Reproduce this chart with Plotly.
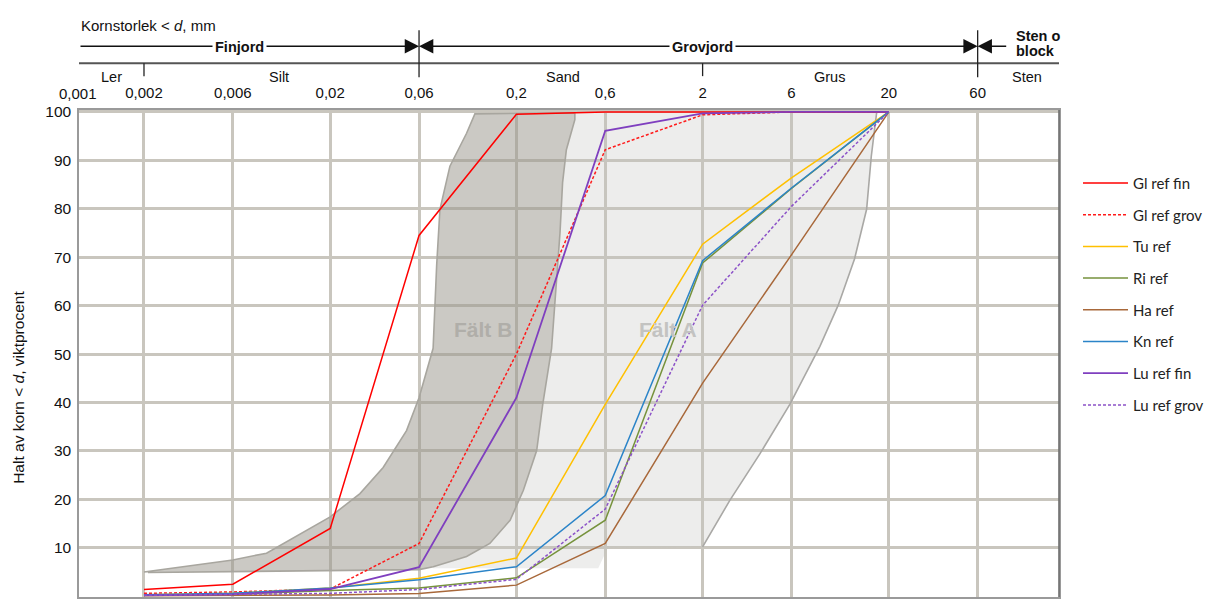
import math
import plotly.graph_objects as go

# ---------------- data ----------------
sizes = [0.002, 0.006, 0.02, 0.06, 0.2, 0.6, 2, 6, 20]

gl_ref_fin  = [1.4, 2.5, 14.0, 74.5, 99.5, 100, 100, 100, 100]
gl_ref_grov = [0.6, 0.9, 1.5, 10.9, 50.0, 92.2, 99.4, 100, 100]
tu_ref      = [0.3, 0.6, 1.7, 3.7, 7.9, 39.6, 72.7, 86.4, 100]
ri_ref      = [0.2, 0.4, 1.2, 1.7, 3.8, 15.7, 68.8, 84.2, 100]
ha_ref      = [0.1, 0.15, 0.25, 0.55, 2.3, 10.9, 44.0, 70.5, 100]
kn_ref      = [0.3, 0.6, 1.7, 3.4, 6.1, 20.8, 69.3, 84.3, 100]
lu_ref_fin  = [0.2, 0.4, 1.5, 6.0, 41.0, 96.1, 99.7, 100, 100]
lu_ref_grov = [0.2, 0.4, 0.6, 1.4, 3.5, 18.0, 60.1, 80.5, 100]

series_names = ["Gl ref fin", "Gl ref grov", "Tu ref", "Ri ref",
                "Ha ref", "Kn ref", "Lu ref fin", "Lu ref grov"]
series_values = [gl_ref_fin, gl_ref_grov, tu_ref, ri_ref,
                 ha_ref, kn_ref, lu_ref_fin, lu_ref_grov]

# Fält B outline (left/top part, then right part)
falt_b_left_x  = [0.002, 0.006, 0.0091, 0.02, 0.0289, 0.0385, 0.0514, 0.06,
                  0.0714, 0.0746, 0.0777, 0.0879, 0.108, 0.1197]
falt_b_left_y  = [5.0, 7.5, 8.9, 16.4, 21.2, 26.6, 34.2, 41.0,
                  51.2, 68.3, 79.9, 88.8, 95.6, 99.6]
falt_b_right_x = [0.412, 0.412, 0.371, 0.354, 0.343, 0.322, 0.309, 0.277,
                  0.257, 0.218, 0.185, 0.144, 0.108, 0.0715]
falt_b_right_y = [99.8, 98.4, 92.2, 85.4, 75.1, 61.5, 51.2, 39.6,
                  30.1, 21.9, 15.7, 10.9, 8.2, 6.1]
falt_b_floor_x = [0.06, 0.0021]
falt_b_floor_y = [5.5, 4.9]

# Fält A outline (right edge from top to bottom, then floor)
falt_a_right_x = [17.2, 16.1, 15.2, 13.1, 10.7, 8.53, 5.88, 4.06, 2.80, 2.0]
falt_a_right_y = [99.8, 90.8, 79.9, 69.7, 60.1, 51.6, 39.6, 29.4, 19.8, 10.2]
falt_a_floor_x = [0.62, 0.55, 0.0715]
falt_a_floor_y = [10.0, 5.8, 5.8]

# axis ticks
grid_sizes = [0.002, 0.006, 0.02, 0.06, 0.2, 0.6, 2, 6, 20, 60]
grid_text = ["0,002", "0,006", "0,02", "0,06", "0,2", "0,6", "2", "6", "20", "60"]
first_tick_text = "0,001"
y_ticks = [0, 10, 20, 30, 40, 50, 60, 70, 80, 90, 100]

# fraction scale on top
fraction_names = ["Ler", "Silt", "Sand", "Grus", "Sten"]
fraction_pos = [0.00133, 0.0106, 0.356, 9.6, 111]
minor_bounds = [0.002, 2]
major_bounds = [0.06, 60]

# ---------------- styles / layout constants ----------------
W, H = 1210, 599
ML, MR, MT, MB = 79, 151, 110, 0
X_RANGE = [-3.048, 2.215]
Y_RANGE = [-0.15, 100.4]
FONT = "Liberation Sans, Arial, Helvetica, sans-serif"
LEG_FONT = "Lato, Carlito, Calibri, Liberation Sans, sans-serif"
GRID = "#c9c6be"
TXT = "#111"

colors = ["#ff0000", "#ff1a1a", "#ffc000", "#76923c",
          "#a8683a", "#2b84c8", "#7f3fbf", "#8c52c8"]
dashes = ["solid", "3px,2px", "solid", "solid", "solid", "solid", "solid", "3px,2px"]
widths = [1.5, 1.5, 1.5, 1.5, 1.5, 1.5, 1.8, 1.5]

plot_h = H - MT - MB
plot_w = W - ML - MR


def py(pix):
    """pixel row -> paper y"""
    return (H - MB - pix) / plot_h


fig = go.Figure()

# Fält A
a_x = ([falt_b_right_x[0]] + falt_a_right_x + falt_a_floor_x
       + falt_b_right_x[::-1])
a_y = ([falt_a_right_y[0]] + falt_a_right_y + falt_a_floor_y
       + falt_b_right_y[::-1])
fig.add_trace(go.Scatter(x=a_x, y=a_y, mode="lines", fill="toself",
                         fillcolor="rgba(195,195,192,0.30)",
                         line=dict(color="rgba(160,160,158,0)", width=0),
                         showlegend=False, hoverinfo="skip"))
fig.add_trace(go.Scatter(x=falt_a_right_x, y=falt_a_right_y, mode="lines",
                         line=dict(color="#a9a8a5", width=1.6),
                         showlegend=False, hoverinfo="skip"))

# Fält B
b_x = falt_b_left_x + falt_b_right_x + falt_b_floor_x
b_y = falt_b_left_y + falt_b_right_y + falt_b_floor_y
fig.add_trace(go.Scatter(x=b_x, y=b_y, mode="lines", fill="toself",
                         fillcolor="rgba(152,148,138,0.50)",
                         line=dict(color="#a8a69f", width=1.6),
                         showlegend=False, hoverinfo="skip"))

# measured curves
for i, (name, vals) in enumerate(zip(series_names, series_values)):
    fig.add_trace(go.Scatter(
        x=sizes, y=vals, mode="lines", name=name, legendgroup=name,
        line=dict(color=colors[i], width=widths[i], dash=dashes[i]),
    ))

annotations = []
shapes = []


def note(**kw):
    base = dict(showarrow=False, xanchor="center", yanchor="middle")
    base.update(kw)
    annotations.append(base)


# field labels
note(x=math.log10(0.132), y=55, xref="x", yref="y", text="<b>Fält B</b>",
     font=dict(family=FONT, size=21, color="#b0aea9"))
note(x=math.log10(1.30), y=55, xref="x", yref="y", text="<b>Fält A</b>",
     font=dict(family=FONT, size=21, color="#c3c3c1"))

# y title
note(x=(19 - ML) / plot_w, y=py(389), xref="paper", yref="paper",
     text="Halt av korn &lt; <i>d</i>, viktprocent", textangle=-90,
     font=dict(family=FONT, size=15.5, color=TXT))

# first tick label
note(x=(78 - ML) / plot_w, y=py(93), xref="paper", yref="paper", text=first_tick_text,
     font=dict(family=FONT, size=15, color=TXT))

# heading
note(x=0, y=py(25), xref="paper", yref="paper", xanchor="left",
     text="Kornstorlek &lt; <i>d</i>, mm", font=dict(family=FONT, size=15, color=TXT))

# arrows
arrow_y = py(46)
arrow_specs = [
    (math.log10(major_bounds[0]), X_RANGE[0]),
    (math.log10(major_bounds[0]), math.log10(2)),
    (math.log10(major_bounds[1]), math.log10(2)),
    (math.log10(major_bounds[1]), math.log10(87)),
]
for head, tail in arrow_specs:
    annotations.append(dict(x=head, y=arrow_y, xref="x", yref="paper",
                            ax=tail, ay=0, axref="x", ayref="pixel",
                            text="", showarrow=True, arrowhead=2, arrowsize=2.2,
                            arrowwidth=1.3, arrowcolor="#111", standoff=0, startstandoff=0))

for txt, pos in [("Finjord", 0.0065), ("Grovjord", 2)]:
    note(x=math.log10(pos), y=py(47), xref="x", yref="paper",
         text="<b>" + txt + "</b>", bgcolor="white", borderpad=2,
         font=dict(family=FONT, size=14.5, color=TXT))

note(x=math.log10(94), y=py(36), xref="x", yref="paper", xanchor="left",
     text="<b>Sten o</b>", font=dict(family=FONT, size=14.5, color=TXT))
note(x=math.log10(94), y=py(51), xref="x", yref="paper", xanchor="left",
     text="<b>block</b>", font=dict(family=FONT, size=14.5, color=TXT))

for name, pos in zip(fraction_names, fraction_pos):
    note(x=math.log10(pos), y=py(77), xref="x", yref="paper", text=name,
         font=dict(family=FONT, size=14.5, color=TXT))

# scale line and ticks
shapes.append(dict(type="line", xref="paper", yref="paper", x0=0, x1=1,
                   y0=py(63), y1=py(63), line=dict(color="#555", width=2)))
for b in major_bounds:
    shapes.append(dict(type="line", xref="x", yref="paper", x0=b, x1=b,
                       y0=py(30), y1=py(77), line=dict(color="#222", width=1.3)))
for b in minor_bounds:
    shapes.append(dict(type="line", xref="x", yref="paper", x0=b, x1=b,
                       y0=py(63), y1=py(76), line=dict(color="#222", width=1.3)))
# darker right frame edge
shapes.append(dict(type="line", xref="paper", yref="paper", x0=1, x1=1,
                   y0=0, y1=1, line=dict(color="#6e6e6e", width=1.6)))

fig.update_layout(
    width=W, height=H,
    margin=dict(l=ML, r=MR, t=MT, b=MB, pad=0),
    paper_bgcolor="white", plot_bgcolor="white",
    showlegend=True,
    legend=dict(x=(1078 - ML) / plot_w, xanchor="left",
                y=py(167), yanchor="top", traceorder="grouped",
                tracegroupgap=9.2, itemwidth=45,
                font=dict(family=LEG_FONT, size=15, color="#222"),
                bgcolor="rgba(0,0,0,0)"),
    xaxis=dict(type="log", range=X_RANGE, side="top",
               tickmode="array", tickvals=grid_sizes, ticktext=grid_text,
               showgrid=True, gridcolor=GRID, gridwidth=2.5,
               ticks="", ticklabelstandoff=4,
               tickfont=dict(family=FONT, size=15, color=TXT),
               showline=True, linecolor="#9a9a9a", linewidth=1.5, mirror=True,
               zeroline=False, fixedrange=True),
    yaxis=dict(range=Y_RANGE, tickmode="array", tickvals=y_ticks,
               showgrid=True, gridcolor=GRID, gridwidth=2.5,
               ticks="", ticklabelstandoff=3,
               tickfont=dict(family=FONT, size=15.5, color=TXT),
               showline=True, linecolor="#9a9a9a", linewidth=1.5, mirror=True,
               zeroline=False, fixedrange=True),
    annotations=annotations,
    shapes=shapes,
)

fig.write_html("out.html")
